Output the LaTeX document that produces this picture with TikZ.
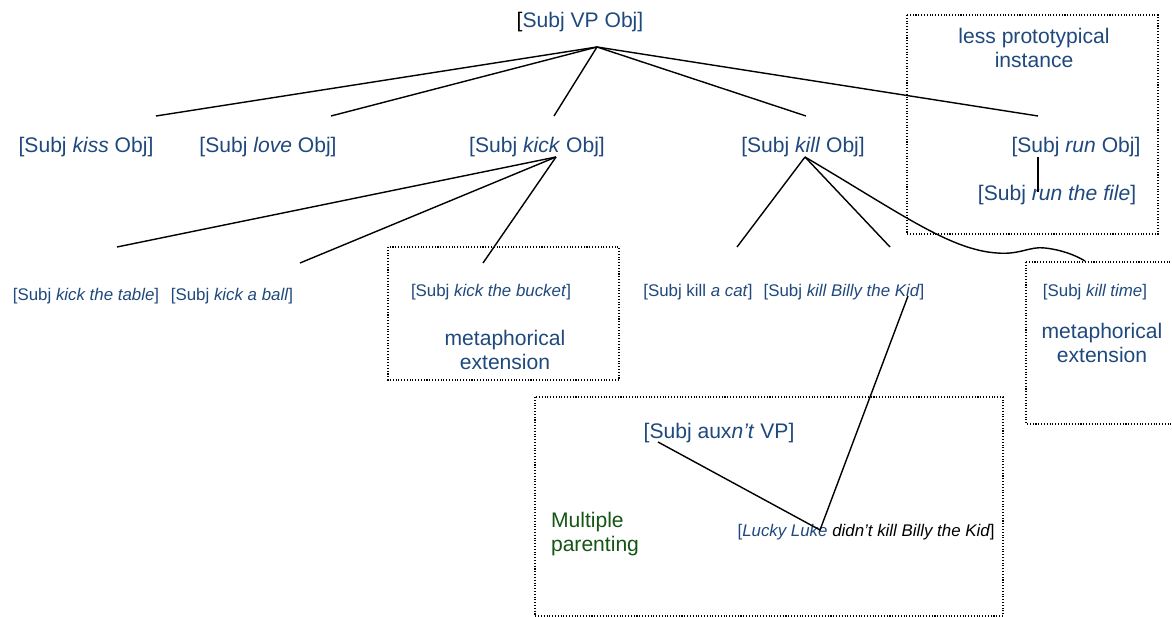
\documentclass[tikz,border=0pt]{standalone}
\usepackage{fontspec}
\setmainfont{Liberation Sans}
\usetikzlibrary{positioning}
\definecolor{txtblue}{RGB}{31,73,125}
\definecolor{txtgreen}{RGB}{20,85,20}

\begin{document}
\begin{tikzpicture}[x=0.02cm, y=-0.02cm,
    lbl/.style={text=txtblue, font=\fontsize{12}{13.6}\selectfont, inner sep=0pt, align=center},
    sm/.style={text=txtblue, font=\fontsize{9.6}{11.5}\selectfont, inner sep=0pt},
    link/.style={line width=0.8pt},
    frame/.style={densely dotted, line width=0.6pt}
]
\useasboundingbox (0,0) rectangle (1172,617);

% dotted frames
\draw[frame] (907,15) rectangle (1158,234);
\draw[frame] (388,247) rectangle (619,380);
\draw[frame] (1026,262) rectangle (1185,424);
\draw[frame] (535,397) rectangle (1003,616);

% top and second row
\node[lbl] (root) at (580,22) {{\color{black}[}Subj VP Obj]};
\node[lbl] (kiss) at (86,147) {[Subj \textit{kiss} Obj]};
\node[lbl] (love) at (268,147) {[Subj \textit{love} Obj]};
\node[lbl] (kick) at (537,147) {[Subj \textit{kick} Obj]};
\node[lbl] (kill) at (803,147) {[Subj \textit{kill} Obj]};
\node[lbl] (run) at (1076,147) {[Subj \textit{run} Obj]};
\node[lbl] (runfile) at (1057,195) {[Subj \textit{run the file}]};
\node[lbl] (proto) at (1034,48) {less prototypical\\instance};

% third row
\node[sm] (table) at (86,296) {[Subj \textit{kick the table}]};
\node[sm] (ball) at (232,296) {[Subj \textit{kick a ball}]};
\node[sm] (bucket) at (491,292) {[Subj \textit{kick the bucket}]};
\node[lbl] (meta1) at (505,350) {metaphorical\\extension};
\node[sm] (cat) at (698,292) {[Subj kill \textit{a cat}]};
\node[sm] (billy) at (844,292) {[Subj \textit{kill Billy the Kid}]};
\node[sm] (time) at (1095,292) {[Subj \textit{kill time}]};
\node[lbl] (meta2) at (1102,343) {metaphorical\\extension};

% multiple parenting
\node[lbl] (neg) at (719,433) {[Subj aux\textit{n’t} VP]};
\node[lbl, text=txtgreen, align=left] (multi) at (595,534) {Multiple\\parenting};
\node[sm] (lucky) at (866,532) {[\textit{Lucky Luke \textcolor{black}{didn’t kill Billy the Kid}}\textcolor{black}{]}};

% attach points
\coordinate (rootP) at (597,47);
\coordinate (kissT) at (156,116);
\coordinate (loveT) at (331,116);
\coordinate (kickT) at (554,116);
\coordinate (killT) at (806,116);
\coordinate (runT) at (1038,116);
\coordinate (kickP) at (556,157);
\coordinate (killP) at (805,157);
\coordinate (tableT) at (117,247);
\coordinate (ballT) at (300,263);
\coordinate (bucketT) at (483,263);
\coordinate (catT) at (737,247);
\coordinate (billyT) at (890,247);
\coordinate (timeT) at (1085,261);
\coordinate (runB) at (1038,157);
\coordinate (fileT) at (1038,192);
\coordinate (negP) at (658,442);
\coordinate (luckyP) at (820,530);
\coordinate (kidP) at (908,296);

% connectors
\foreach \t in {kissT, loveT, kickT, killT, runT}
    \draw[link] (rootP) -- (\t);
\foreach \t in {tableT, ballT, bucketT}
    \draw[link] (kickP) -- (\t);
\foreach \t in {catT, billyT}
    \draw[link] (killP) -- (\t);
\draw[link] (killP) .. controls (900,213) and (950,250) .. (997,253)
    .. controls (1020,255) and (1030,246) .. (1045,248)
    .. controls (1062,250) and (1075,255) .. (timeT);
\draw[link] (runB) -- (fileT);
\draw[link] (negP) -- (luckyP) -- (kidP);
\end{tikzpicture}
\end{document}
